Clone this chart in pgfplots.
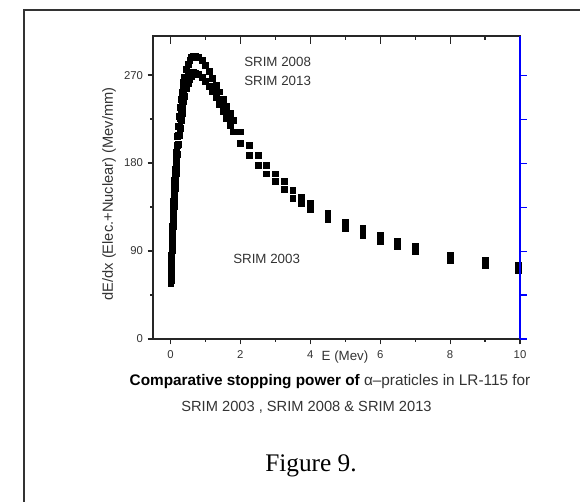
\documentclass[border=0pt]{standalone}
\usepackage{fontspec}
\setmainfont{Liberation Sans}
\newfontfamily\seriffont{Liberation Serif}
\usepackage{pgfplots}
\pgfplotsset{compat=1.18}
\begin{document}
\begin{tikzpicture}
\path[use as bounding box] (0,0) rectangle (435pt,375.75pt);
\pgfplotsset{myaxis/.style={scale only axis, width=275.25pt, height=227.25pt,
  xmin=-0.5, xmax=10, ymin=0, ymax=310, at={(114.75pt,121.5pt)}, anchor=south west}}
% main axis: box, ticks bottom + left
\begin{axis}[myaxis, tick align=outside, xtick pos=left, ytick pos=left,
  xtick={0,2,...,10}, minor x tick num=1,
  ytick={0,90,180,270}, minor y tick num=1,
  major tick length=4pt, minor tick length=2.2pt,
  tick style={black!85, line width=0.9pt},
  axis line style={line width=0.9pt, black!85},
  ticklabel style={font=\fontsize{8.5}{10}\selectfont, text=black!80},
  xticklabel style={yshift=-1.5pt},
  /pgf/number format/assume math mode=true]
\addplot[only marks, mark=square*, mark size=2.2pt, black] coordinates {
(0.01,58) (0.0125,62) (0.015,66) (0.0175,70) (0.02,74) (0.025,80) (0.03,86)
(0.035,91) (0.04,96) (0.045,101) (0.05,106) (0.06,115) (0.07,124) (0.08,133)
(0.09,141) (0.10,148) (0.11,155) (0.12,162) (0.13,168) (0.14,174) (0.15,180)
(0.16,186) (0.17,191) (0.18,197) (0.20,207) (0.225,218) (0.25,228) (0.275,237)
(0.30,245) (0.325,252) (0.35,258) (0.375,263) (0.40,268) (0.45,276) (0.50,281)
(0.55,285) (0.60,288) (0.65,289) (0.70,289) (0.80,288) (0.90,285) (1.0,280)
(1.1,274) (1.2,267) (1.3,260) (1.4,253) (1.5,245) (1.6,238) (1.7,231) (1.8,224)
(2.0,212) (2.25,198) (2.5,188) (2.75,178) (3.0,169) (3.25,161) (3.5,152)
(3.75,145) (4.0,139) (4.5,129) (5.0,120) (5.5,113) (6.0,106) (6.5,100)
(7.0,95) (8.0,86) (9.0,81) (9.95,75)
};
\addplot[only marks, mark=square*, mark size=2.2pt, black] coordinates {
(0.01,57) (0.0125,60) (0.015,64) (0.0175,67) (0.02,70) (0.025,76) (0.03,81)
(0.035,86) (0.04,91) (0.045,95) (0.05,99) (0.06,107) (0.07,115) (0.08,122)
(0.09,129) (0.10,136) (0.11,142) (0.12,148) (0.13,154) (0.14,160) (0.15,165)
(0.16,170) (0.17,175) (0.18,180) (0.20,189) (0.225,199) (0.25,208) (0.275,216)
(0.30,224) (0.325,231) (0.35,237) (0.375,243) (0.40,248) (0.45,256) (0.50,262)
(0.55,266) (0.60,269) (0.65,271) (0.70,272) (0.80,271) (0.90,268) (1.0,264)
(1.1,259) (1.2,253) (1.3,247) (1.4,240) (1.5,233) (1.6,226) (1.7,219) (1.8,212)
(2.0,200) (2.25,188) (2.5,178) (2.75,169) (3.0,161) (3.25,153) (3.5,144)
(3.75,139) (4.0,133) (4.5,122) (5.0,113) (5.5,106) (6.0,100) (6.5,95)
(7.0,90) (8.0,81) (9.0,75) (9.95,70)
};
\addplot[only marks, mark=square*, mark size=2.2pt, black] coordinates {
(0.01,57) (0.0125,61) (0.015,65) (0.0175,68) (0.02,72) (0.025,78) (0.03,83)
(0.035,88) (0.04,93) (0.045,98) (0.05,102) (0.06,111) (0.07,119) (0.08,127)
(0.09,135) (0.10,142) (0.11,148) (0.12,155) (0.13,161) (0.14,167) (0.15,172)
(0.16,178) (0.17,183) (0.18,188) (0.20,198) (0.225,208) (0.25,218) (0.275,226)
(0.30,234) (0.325,241) (0.35,247) (0.375,252) (0.40,257) (0.45,265) (0.50,270)
(0.55,272) (0.60,273) (0.65,273) (0.70,272) (0.80,271) (0.90,268) (1.0,264)
(1.1,259) (1.2,253) (1.3,247) (1.4,240) (1.5,233) (1.6,226) (1.7,219) (1.8,212)
(2.0,200) (2.25,188) (2.5,178) (2.75,169) (3.0,161) (3.25,153) (3.5,144)
(3.75,139) (4.0,133) (4.5,122) (5.0,113) (5.5,106) (6.0,100) (6.5,95)
(7.0,90) (8.0,81) (9.0,75) (9.95,70)
};
\end{axis}
% top axis: inward ticks
\begin{axis}[myaxis, hide y axis, tick align=inside, xtick pos=right,
  xtick={0,2,...,10}, minor x tick num=1, xticklabels={},
  major tick length=6pt, minor tick length=3pt,
  tick style={black!85, line width=0.9pt},
  axis line style={line width=0.9pt, black!85}]
\addplot[draw=none] coordinates {(0,0)};
\end{axis}
% right axis: blue
\begin{axis}[myaxis, axis y line*=right, hide x axis, tick align=outside,
  ytick={0,45,...,270}, yticklabels={},
  major tick length=5pt,
  tick style={blue, line width=0.8pt},
  axis line style={line width=1.1pt, blue}]
\addplot[draw=none] coordinates {(0,0)};
\end{axis}
\begin{scope}[x=0.75pt,y=-0.75pt,shift={(0pt,375.75pt)}]
\draw[line width=1.5pt, black!80] (23.7,510) -- (23.7,10.3) -- (590,10.3);
\node[anchor=west, inner sep=0, text=black!80, font=\fontsize{10}{12}\selectfont] at (244,62) {SRIM 2008};
\node[anchor=west, inner sep=0, text=black!80, font=\fontsize{10}{12}\selectfont] at (244,81) {SRIM 2013};
\node[anchor=west, inner sep=0, text=black!80, font=\fontsize{10}{12}\selectfont] at (233,259) {SRIM 2003};
\node[rotate=90, inner sep=0, text=black!80, font=\fontsize{11}{13}\selectfont] at (109,194) {dE/dx (Elec.+Nuclear) (Mev/mm)};
\node[inner sep=0, text=black!80, font=\fontsize{10}{12}\selectfont] at (345,356.7) {E (Mev)};
\node[inner sep=0, font=\fontsize{11.5}{14}\selectfont] at (330,382) {\textbf{Comparative stopping power of} \textcolor{black!80}{α–praticles in LR-115 for}};
\node[inner sep=0, text=black!80, font=\fontsize{11}{13}\selectfont] at (306.5,407) {SRIM 2003 , SRIM 2008 \& SRIM 2013};
\node[anchor=base, inner sep=0, font=\seriffont\fontsize{19}{22}\selectfont] at (311,471.7) {Figure 9.};
\end{scope}
\end{tikzpicture}
\end{document}
